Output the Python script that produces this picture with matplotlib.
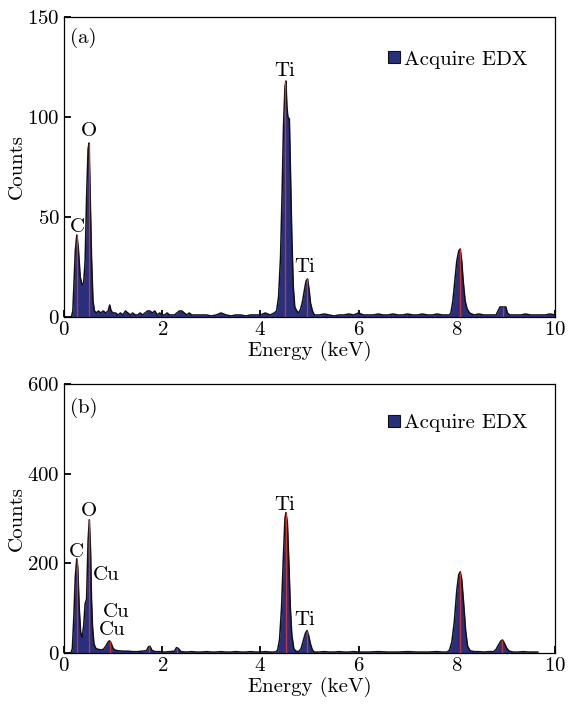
import matplotlib
matplotlib.use('Agg')
import matplotlib.pyplot as plt
from matplotlib.lines import Line2D

# ---- 字体：Computer Modern 风格 ----
plt.rcParams['font.family'] = 'cmr10'
plt.rcParams['mathtext.fontset'] = 'cm'
plt.rcParams['axes.formatter.use_mathtext'] = True
plt.rcParams['font.size'] = 15

# ---- (a) 谱图数据：能量 (keV) / 计数 ----
energy_a = [0.10, 0.15, 0.18, 0.20, 0.23, 0.26, 0.29, 0.33, 0.37, 0.40, 0.43, 0.46, 0.49, 0.51,
            0.53, 0.56, 0.59, 0.62, 0.66, 0.70, 0.75, 0.80, 0.85, 0.90, 0.93, 0.96, 1.00, 1.05,
            1.10, 1.15, 1.20, 1.25, 1.30, 1.35, 1.40, 1.45, 1.50, 1.55, 1.60, 1.65, 1.70, 1.75,
            1.80, 1.85, 1.90, 1.95, 2.00, 2.05, 2.10, 2.15, 2.20, 2.25, 2.30, 2.35, 2.40, 2.45,
            2.50, 2.55, 2.60, 2.70, 2.80, 2.90, 3.00, 3.10, 3.20, 3.30, 3.40, 3.50, 3.60, 3.70,
            3.80, 3.90, 4.00, 4.10, 4.20, 4.28, 4.33, 4.37, 4.41, 4.44, 4.47, 4.50, 4.52, 4.54,
            4.56, 4.59, 4.61, 4.64, 4.67, 4.70, 4.74, 4.78, 4.82, 4.86, 4.90, 4.93, 4.96, 4.99,
            5.02, 5.06, 5.10, 5.20, 5.30, 5.40, 5.50, 5.60, 5.70, 5.80, 5.90, 6.00, 6.10, 6.20,
            6.30, 6.40, 6.50, 6.60, 6.70, 6.80, 6.90, 7.00, 7.10, 7.20, 7.30, 7.40, 7.50, 7.60,
            7.70, 7.80, 7.85, 7.88, 7.92, 7.96, 8.00, 8.04, 8.07, 8.10, 8.13, 8.17, 8.21, 8.26,
            8.35, 8.45, 8.55, 8.65, 8.75, 8.80, 8.84, 8.88, 8.92, 8.96, 9.00, 9.03, 9.08, 9.20,
            9.30, 9.40, 9.50, 9.60, 9.70, 9.80, 9.90, 10.0]
counts_a = [0, 0, 3, 15, 33, 41, 35, 20, 16, 17, 28, 60, 84, 87,
            65, 30, 8, 3, 2, 3, 2, 3, 2, 3, 6, 3, 2, 2,
            1, 2, 1, 3, 2, 1, 2, 1, 1, 2, 1, 2, 3, 3,
            2, 3, 1, 2, 1, 1, 2, 1, 1, 1, 2, 3, 3, 2,
            1, 2, 1, 1, 1, 1, 0.5, 1, 2, 1, 0.5, 1, 1, 0.5,
            1, 1, 1, 2, 1, 2, 3, 10, 30, 60, 95, 115, 118, 105,
            100, 99, 75, 40, 15, 5, 3, 2, 4, 8, 14, 18, 19, 14,
            7, 3, 1, 1, 1.5, 1, 0.5, 1, 1, 1.5, 1, 2, 1, 1,
            1, 1.5, 1, 1, 1.5, 1, 1, 1.5, 1, 1, 1.5, 1, 1, 1.5,
            1, 1, 1, 2, 8, 18, 28, 33, 34, 28, 18, 8, 4, 2,
            1, 1.5, 1, 1, 1, 1, 3, 5, 5, 5, 5, 2, 1, 1,
            1, 1.5, 1, 1, 1, 1, 1.5, 1]
lines_a_x = [0.265, 0.51, 4.51, 4.94, 8.06, 8.95]
lines_a_y = [41, 87, 118, 19, 34, 5]

# ---- (b) 谱图数据 ----
energy_b = [0.10, 0.14, 0.17, 0.20, 0.23, 0.26, 0.28, 0.31, 0.34, 0.37, 0.40, 0.43, 0.46, 0.49,
            0.515, 0.54, 0.56, 0.58, 0.61, 0.65, 0.70, 0.75, 0.80, 0.85, 0.90, 0.93, 0.96, 1.00,
            1.05, 1.10, 1.20, 1.30, 1.40, 1.50, 1.60, 1.68, 1.72, 1.75, 1.79, 1.85, 1.95, 2.05,
            2.15, 2.25, 2.29, 2.33, 2.38, 2.50, 2.60, 2.70, 2.80, 2.90, 3.00, 3.10, 3.20, 3.30,
            3.40, 3.50, 3.60, 3.70, 3.80, 3.90, 4.00, 4.10, 4.20, 4.30, 4.35, 4.39, 4.43, 4.47,
            4.50, 4.52, 4.55, 4.58, 4.61, 4.64, 4.68, 4.72, 4.78, 4.83, 4.88, 4.92, 4.95, 4.98,
            5.02, 5.06, 5.10, 5.20, 5.30, 5.40, 5.50, 5.60, 5.70, 5.80, 5.90, 6.00, 6.20, 6.40,
            6.60, 6.80, 7.00, 7.20, 7.40, 7.60, 7.70, 7.80, 7.85, 7.90, 7.95, 8.00, 8.04, 8.07,
            8.10, 8.14, 8.18, 8.22, 8.27, 8.35, 8.45, 8.55, 8.65, 8.75, 8.80, 8.85, 8.90, 8.93,
            8.97, 9.02, 9.07, 9.15, 9.25, 9.35, 9.45, 9.55, 9.65]
counts_b = [0, 0, 10, 80, 170, 210, 190, 100, 45, 35, 60, 110, 120, 250,
            297, 230, 120, 60, 20, 10, 8, 7, 8, 15, 25, 27, 22, 10,
            6, 5, 4, 4, 3, 3, 4, 5, 14, 15, 6, 3, 3, 2,
            3, 4, 12, 10, 3, 2, 3, 2, 2, 3, 2, 2, 3, 2,
            2, 3, 2, 2, 3, 2, 2, 3, 2, 2, 6, 30, 100, 220,
            300, 313, 290, 200, 100, 40, 10, 4, 3, 10, 30, 45, 50, 40,
            20, 6, 2, 2, 3, 2, 2, 3, 2, 2, 3, 2, 2, 3,
            2, 2, 3, 2, 2, 3, 2, 2, 6, 25, 70, 140, 175, 181,
            165, 110, 50, 15, 5, 3, 3, 2, 3, 3, 8, 18, 27, 29,
            22, 10, 4, 2, 2, 3, 2, 2, 2]
lines_b_x = [0.265, 0.515, 0.93, 1.74, 2.30, 4.52, 4.95, 8.07, 8.93]
lines_b_y = [210, 297, 27, 15, 12, 313, 50, 181, 29]

# ---- 颜色 ----
FILL_COLOR = '#2a2f7d'
EDGE_COLOR = '#111111'
MARK_COLOR = '#d4322f'

fig = plt.figure(figsize=(5.68, 7.05), dpi=100)
ax1 = fig.add_axes([0.1127, 0.5504, 0.8644, 0.4255])
ax2 = fig.add_axes([0.1127, 0.0738, 0.8644, 0.3816])


def draw_spectrum(ax, ex, cy, lx, ly):
    ax.fill_between(ex, 0, cy, color=FILL_COLOR, linewidth=0, zorder=2)
    ax.plot(ex, cy, color=EDGE_COLOR, linewidth=1.1, zorder=3)
    ax.vlines(lx, 0, ly, color=MARK_COLOR, linewidth=0.9, zorder=4)
    handle = Line2D([], [], linestyle='none', marker='s', markersize=8,
                    markerfacecolor=FILL_COLOR, markeredgecolor=EDGE_COLOR,
                    markeredgewidth=0.8)
    ax.legend([handle], ['Acquire EDX'], loc='upper right',
              bbox_to_anchor=(0.943, 0.89), frameon=False, handlelength=0.6,
              handletextpad=0.15, borderpad=0, borderaxespad=0, fontsize=15)
    ax.set_xlim(0, 10)
    ax.set_xticks([0, 2, 4, 6, 8, 10])
    ax.set_xlabel('Energy (keV)', labelpad=1)
    ax.set_ylabel('Counts', labelpad=1)
    ax.tick_params(direction='in', length=5, width=1.3, labelsize=15, pad=3)
    for sp in ax.spines.values():
        sp.set_linewidth(0.9)


# ---- (a) ----
draw_spectrum(ax1, energy_a, counts_a, lines_a_x, lines_a_y)
ax1.set_ylim(0, 150)
ax1.set_yticks([0, 50, 100, 150])
ax1.text(0.012, 0.93, '(a)', transform=ax1.transAxes, ha='left', va='center')
ax1.text(0.265, 45, 'C', ha='center', va='center')
ax1.text(0.51, 93, 'O', ha='center', va='center')
ax1.text(4.50, 123, 'Ti', ha='center', va='center')
ax1.text(4.91, 25, 'Ti', ha='center', va='center')

# ---- (b) ----
draw_spectrum(ax2, energy_b, counts_b, lines_b_x, lines_b_y)
ax2.set_ylim(0, 600)
ax2.set_yticks([0, 200, 400, 600])
ax2.text(0.012, 0.91, '(b)', transform=ax2.transAxes, ha='left', va='center')
ax2.text(0.26, 225, 'C', ha='center', va='center')
ax2.text(0.51, 317, 'O', ha='center', va='center')
ax2.text(0.59, 174, 'Cu', ha='left', va='center')
ax2.text(0.79, 92, 'Cu', ha='left', va='center')
ax2.text(0.71, 51, 'Cu', ha='left', va='center')
ax2.text(4.50, 330, 'Ti', ha='center', va='center')
ax2.text(4.91, 74, 'Ti', ha='center', va='center')

fig.savefig('out.png', dpi=100)
plt.close(fig)
